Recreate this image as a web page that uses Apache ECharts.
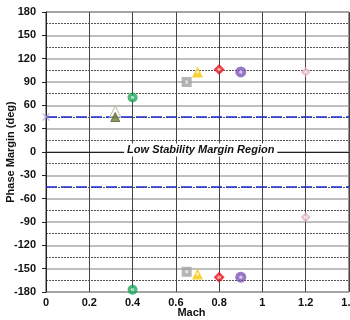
<!DOCTYPE html>
<html>
<head>
<meta charset="utf-8">
<script src="https://cdn.jsdelivr.net/npm/echarts@6/dist/echarts.min.js"></script>
<style>
  html, body { margin: 0; padding: 0; background: #fff; }
  #chart { width: 350px; height: 320px; }
</style>
</head>
<body>
<div id="chart"></div>
<script>
// Phase margin vs Mach, upper and lower crossings per configuration
const xTicks = [0, 0.2, 0.4, 0.6, 0.8, 1, 1.2, 1.4];
const yTicks = [-180, -150, -120, -90, -60, -30, 0, 30, 60, 90, 120, 150, 180];

const olivePts   = [[0.32, 45]];
const olivePtsB  = [[0.32, 52]];
const greenPts   = [[0.4, 70], [0.4, -177]];
const grayPts    = [[0.65, 90], [0.65, -154]];
const yellowPts  = [[0.7, 103], [0.7, -157]];
const redPts     = [[0.8, 106], [0.8, -161]];
const purplePts  = [[0.9, 103], [0.9, -161]];
const pinkPts    = [[1.2, 103], [1.2, -84]];
const crossPts   = [[0, 45]];

const marginLimits = [45, -45];
const regionLabel = 'Low Stability Margin Region';
const regionLabelPos = [0.715, 0];

const font = 'Arial, "Liberation Sans", sans-serif';

function pts(name, data, symbol, size, color, extra) {
  return Object.assign({
    name: name,
    type: 'scatter',
    data: data,
    symbol: symbol,
    symbolSize: size,
    itemStyle: { color: color },
    z: 5
  }, extra || {});
}

const chart = echarts.init(document.getElementById('chart'));
chart.setOption({
  animation: false,
  grid: {
    left: 46, right: 1, top: 12, bottom: 28,
    containLabel: false, outerBoundsMode: 'none',
    show: true, borderColor: '#333', borderWidth: 1
  },
  xAxis: {
    type: 'value',
    min: 0, max: 1.4, interval: 0.2,
    name: 'Mach',
    nameLocation: 'middle',
    nameGap: 15,
    nameMoveOverlap: false,
    nameTextStyle: { fontFamily: font, fontWeight: 'bold', fontSize: 11, color: '#111', padding: [0, 12, 0, 0] },
    axisLine: { lineStyle: { color: '#222' } },
    axisTick: { show: false },
    axisLabel: {
      fontFamily: font, fontWeight: 'bold', fontSize: 11, color: '#111', margin: 5,
      formatter: v => String(xTicks.find(t => Math.abs(t - v) < 1e-6) ?? v)
    },
    splitLine: { show: true, lineStyle: { color: '#444', width: 1 } }
  },
  yAxis: {
    type: 'value',
    min: -180, max: 180, interval: 30,
    name: 'Phase Margin (deg)',
    nameLocation: 'middle',
    nameGap: 30,
    nameMoveOverlap: false,
    nameRotate: 90,
    nameTextStyle: { fontFamily: font, fontWeight: 'bold', fontSize: 11, color: '#111' },
    axisLine: { show: true, lineStyle: { color: '#222' } },
    axisTick: { show: true, length: 4, lineStyle: { color: '#222' } },
    axisLabel: {
      fontFamily: font, fontWeight: 'bold', fontSize: 11, color: '#111', margin: 10,
      formatter: v => String(yTicks.find(t => t === v) ?? v)
    },
    splitLine: { show: true, lineStyle: { color: '#aaa', width: 1.5 } },
    minorTick: { show: false, splitNumber: 2 },
    minorSplitLine: { show: true, lineStyle: { color: '#555', width: 1, type: [2, 1] } }
  },
  series: [
    {
      name: 'limits',
      type: 'line',
      data: [],
      markLine: {
        silent: true,
        symbol: 'none',
        label: { show: false },
        lineStyle: { color: '#1f2bd6', width: 1.5, type: [11, 4] },
        data: marginLimits.map(v => ({ yAxis: v }))
      },
      markPoint: {
        silent: true,
        symbol: 'rect',
        symbolSize: 0,
        data: [{ coord: regionLabelPos }],
        label: {
          show: true,
          formatter: regionLabel,
          fontFamily: font,
          fontStyle: 'italic',
          fontWeight: 'bold',
          fontSize: 11,
          color: '#111',
          backgroundColor: '#fff',
          padding: [1, 3, 1, 3],
          offset: [0, -2]
        }
      },
      z: 3
    },
    pts('cross', crossPts, 'path://M0,0L10,10M10,0L0,10', 7, '#b9a3d8',
        { itemStyle: { color: 'none', borderColor: '#b9a3d8', borderWidth: 1.2 } }),
    pts('oliveB', olivePtsB, 'triangle', 11, '#fff',
        { itemStyle: { color: 'rgba(255,255,255,0.6)', borderColor: '#b8b8a8', borderWidth: 1.2 } }),
    pts('olive', olivePts, 'triangle', 9, '#6d7a32',
        { itemStyle: { color: '#6d7a32', borderColor: '#55602a', borderWidth: 1 } }),
    pts('green', greenPts, 'circle', 10, '#1fa65a'),
    pts('gray', grayPts, 'rect', 10, '#a3a3a3'),
    pts('yellow', yellowPts, 'triangle', 11, '#f7c600'),
    pts('red', redPts, 'diamond', 11, '#e8141e'),
    pts('purple', purplePts, 'circle', 11, '#7d55b8'),
    pts('pink', pinkPts, 'diamond', 10, '#e7b2c2'),
    // small inner highlights on the filled markers
    pts('inner', [].concat(greenPts, grayPts, yellowPts, redPts, purplePts, pinkPts), 'circle', 3.5,
        'rgba(255,255,255,0.75)', { z: 6, silent: true })
  ]
});
</script>
</body>
</html>
